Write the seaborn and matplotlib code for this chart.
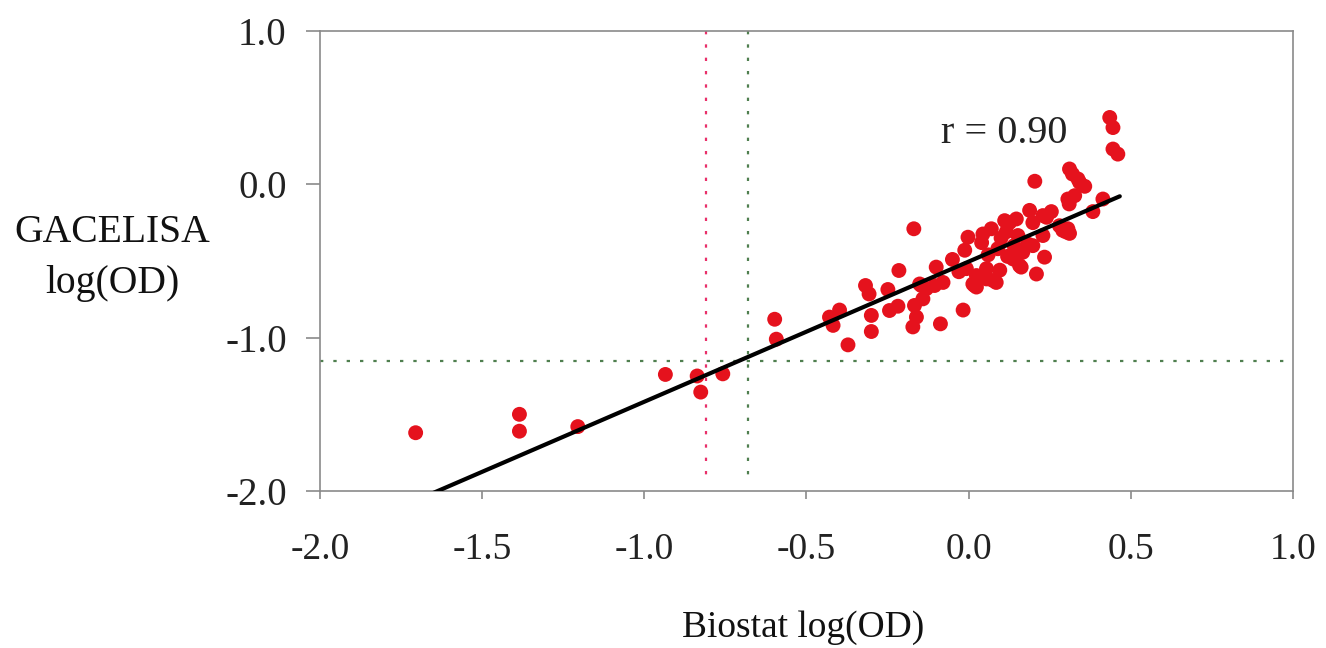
import numpy as np
import pandas as pd
import seaborn as sns
import matplotlib.pyplot as plt

# Biostat vs GACELISA log(OD)
biostat = [-1.705, -1.385, -1.385, -1.205, -0.935, -0.837, -0.826, -0.758, -0.598, -0.593,
           -0.429, -0.418, -0.398, -0.372, -0.318, -0.307, -0.300, -0.300,
           -0.249, -0.244, -0.218, -0.215, -0.172, -0.161, -0.167, -0.169,
           -0.151, -0.146, -0.141, -0.130, -0.105, -0.100, -0.087, -0.079,
           -0.050, -0.030, -0.017, -0.012, -0.007, -0.002, 0.013, 0.018, 0.024, 0.024,
           0.040, 0.044, 0.055, 0.055, 0.060, 0.070, 0.075, 0.085, 0.090, 0.096,
           0.100, 0.111, 0.116, 0.120, 0.126, 0.137, 0.140, 0.147, 0.152, 0.157,
           0.162, 0.167, 0.183, 0.188, 0.198, 0.198, 0.204, 0.209, 0.229, 0.229,
           0.234, 0.240, 0.255, 0.280, 0.290, 0.300, 0.306, 0.306, 0.311, 0.310,
           0.311, 0.320, 0.327, 0.337, 0.342, 0.358, 0.383, 0.414, 0.435, 0.445,
           0.445, 0.460]
gacelisa = [-1.62, -1.50, -1.61, -1.58, -1.24, -1.25, -1.355, -1.236, -0.88, -1.01,
            -0.866, -0.92, -0.82, -1.047, -0.66, -0.715, -0.855, -0.96,
            -0.686, -0.823, -0.795, -0.562, -0.93, -0.866, -0.79, -0.29,
            -0.65, -0.66, -0.747, -0.68, -0.66, -0.54, -0.91, -0.64,
            -0.49, -0.57, -0.82, -0.43, -0.55, -0.345, -0.65, -0.66, -0.595, -0.67,
            -0.38, -0.324, -0.55, -0.617, -0.46, -0.29, -0.627, -0.64, -0.42, -0.56,
            -0.35, -0.237, -0.31, -0.47, -0.25, -0.487, -0.40, -0.226, -0.334, -0.53,
            -0.54, -0.443, -0.39, -0.17, -0.25, -0.40, 0.02, -0.585, -0.334, -0.204,
            -0.475, -0.215, -0.178, -0.27, -0.30, -0.31, -0.096, -0.29, -0.32, -0.128,
            0.10, 0.067, -0.074, 0.035, 0.013, -0.013, -0.178, -0.096, 0.436, 0.37,
            0.23, 0.197]

# regression line as drawn in the figure
fit_slope = 0.914
fit_intercept = -0.504
fit_x = [-1.75, 0.466]

# cut-off lines
cut_x_pink = -0.81
cut_x_green = -0.68
cut_y_green = -1.15

df = pd.DataFrame({'biostat': biostat, 'gacelisa': gacelisa})
fit = pd.DataFrame({'x': fit_x})
fit['y'] = fit_slope * fit['x'] + fit_intercept

sns.set_style('white')
plt.rcParams['font.family'] = ['Liberation Serif', 'DejaVu Serif']

fig = plt.figure(figsize=(13.26, 6.48), dpi=100)
ax = fig.add_axes([0.2413, 0.2423, 0.7338, 0.7099])

# dotted cut-offs
ax.plot([-2.0, 1.0], [cut_y_green, cut_y_green], color='#4f7f4f',
        linestyle=(0, (1.5, 4.5)), lw=1.6, zorder=1)
ax.plot([cut_x_pink, cut_x_pink], [1.0, -1.92], color='#e8306a',
        linestyle=(0, (1.5, 4.5)), lw=1.6, zorder=1)
ax.plot([cut_x_green, cut_x_green], [1.0, -1.92], color='#4f7f4f',
        linestyle=(0, (1.5, 4.5)), lw=1.6, zorder=1)

sns.scatterplot(data=df, x='biostat', y='gacelisa', ax=ax, color='#e5121d',
                s=115, edgecolor='none', zorder=3)
sns.lineplot(data=fit, x='x', y='y', ax=ax, color='black', lw=3.0, zorder=4)

ax.text(0.111, 0.33, 'r = 0.90', fontsize=29, ha='center', va='center', color='#222222')

ax.set_xlim(-2.0, 1.0)
ax.set_ylim(-2.0, 1.0)
ax.set_xticks(np.arange(-2.0, 1.01, 0.5))
ax.set_yticks([-2.0, -1.0, 0.0, 1.0])
ax.set_xticklabels([f'{v:.1f}' for v in np.arange(-2.0, 1.01, 0.5)])
ax.set_yticklabels([f'{v:.1f}' for v in [-2.0, -1.0, 0.0, 1.0]])
ax.set_xlabel('')
ax.set_ylabel('')

for sp in ax.spines.values():
    sp.set_color('#8a8a8a')
    sp.set_linewidth(1.2)
ax.tick_params(axis='x', direction='out', length=6, width=1.2, color='#8a8a8a',
               labelsize=27, pad=24, bottom=True, labelcolor='#222222')
ax.tick_params(axis='y', direction='out', length=10, width=1.2, color='#8a8a8a',
               labelsize=28, pad=14, left=True, labelcolor='#222222')

fig.text(112 / 1326, 1 - 258 / 648, 'GACELISA\nlog(OD)', fontsize=28.5,
         ha='center', va='center', linespacing=1.5, color='#111111')
fig.text(803 / 1326, 1 - 628 / 648, 'Biostat log(OD)', fontsize=27,
         ha='center', va='center', color='#111111')

fig.savefig('out.png', dpi=100)
